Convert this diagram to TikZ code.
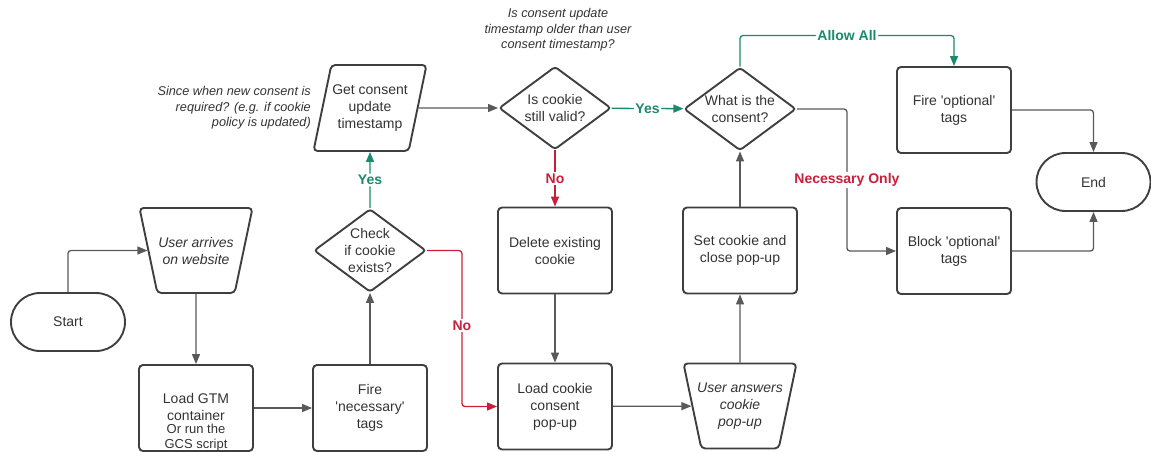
\documentclass[tikz,border=0pt]{standalone}
\usepackage{fontspec}
\setmainfont{Liberation Sans}
\usetikzlibrary{arrows.meta,shapes.geometric}
\definecolor{edgec}{HTML}{3F3F3F}
\definecolor{linec}{HTML}{595959}
\definecolor{txtc}{HTML}{333333}
\definecolor{yesc}{HTML}{1A8A6C}
\definecolor{noc}{HTML}{C8203A}
\newcommand{\sq}{\textquotesingle}
\newcommand{\shapefill}{\phantom{\rule{1pt}{1pt}}}

\begin{document}
\begin{tikzpicture}[x=1pt,y=-1pt,
  shp/.style={draw=edgec, line width=1.9pt, text=txtc,
    font=\fontsize{14}{17}\selectfont, align=center, inner sep=0pt},
  inlab/.style={text=txtc, font=\fontsize{14}{17}\selectfont, align=center, inner sep=0pt},
  process/.style={shp, rectangle, rounded corners=4pt, minimum width=114pt, minimum height=86pt},
  terminal/.style={shp, rectangle, rounded corners=29pt, minimum width=114pt, minimum height=58pt},
  decide/.style={shp, diamond, rounded corners=3pt, minimum width=112pt, minimum height=83pt,
    label={[inlab]center:#1}},
  usrin/.style={shp, trapezium, trapezium left angle=77, trapezium right angle=77,
    trapezium stretches=true, shape border rotate=180, rounded corners=4pt,
    minimum width=113pt, minimum height=85pt,
    label={[inlab,font=\itshape\fontsize{14}{17}\selectfont]center:#1}},
  datain/.style={shp, trapezium, trapezium left angle=77, trapezium right angle=103,
    trapezium stretches=true, rounded corners=4pt, minimum width=113pt, minimum height=86pt,
    label={[inlab]center:#1}},
  note/.style={text=txtc, font=\itshape\fontsize{12.7}{15.5}\selectfont, align=center, inner sep=0pt},
  conn/.style={draw=linec, line width=1.3pt, rounded corners=3pt,
    -{Triangle[length=10pt,width=8pt]}},
  yesline/.style={conn, draw=yesc},
  noline/.style={conn, draw=noc},
  lbl/.style={fill=white, inner sep=1.5pt, font=\bfseries\fontsize{14}{17}\selectfont},
]
\useasboundingbox (0,0) rectangle (1151,452);

% nodes
\node[terminal] (start) at (68,322) {Start};
\node[usrin={User arrives\\on website}] (ua) at (196,250.5) {\shapefill};
\node[process, label={[inlab,yshift=1.5pt]center:Load GTM\\container}] (gtm) at (196,408) {};
\node[text=txtc, font=\fontsize{13}{15}\selectfont, align=center, inner sep=0pt]
  (gcs) at (196,437.5) {Or run the\\GCS script};
\node[process] (fire) at (370,408) {Fire\\\sq necessary\sq\\tags};
\node[decide={Check\\if cookie\\exists?}] (check) at (370,250.5) {\shapefill};
\node[datain={Get consent\\update\\timestamp}] (get) at (370,108) {\shapefill};
\node[note, anchor=east, align=right] (n1) at (311,108)
  {Since when new consent is\\required? (e.g. if cookie\\policy is updated)};
\node[decide={Is cookie\\still valid?}] (valid) at (555,108) {\shapefill};
\node[note] (n2) at (558,30) {Is consent update\\timestamp older than user\\consent timestamp?};
\node[process] (del) at (555,250.5) {Delete existing\\cookie};
\node[process] (load) at (555,406.5) {Load cookie\\consent\\pop-up};
\node[usrin={User answers\\cookie\\pop-up}] (uans) at (740,406) {\shapefill};
\node[process] (set) at (740,250.5) {Set cookie and\\close pop-up};
\node[decide={What is the\\consent?}] (what) at (740,109) {\shapefill};
\node[process] (fopt) at (954,110) {Fire \sq optional\sq\\tags};
\node[process] (bopt) at (954,251) {Block \sq optional\sq\\tags};
\node[terminal] (end) at (1093.5,182) {End};

% connectors
\draw[conn] (start.north) |- (ua);
\draw[conn] (ua) -- (gtm);
\draw[conn] (gtm) -- (fire);
\draw[conn] (fire) -- (check);
\draw[yesline] (check) -- node[lbl,text=yesc]{Yes} (get);
\draw[noline] (check.east) -- ++(35,0) |- node[lbl,text=noc,pos=0.24]{No} (load.west);
\draw[conn] (get) -- (valid);
\draw[yesline] (valid) -- node[lbl,text=yesc]{Yes} (what);
\draw[noline] (valid) -- node[lbl,text=noc]{No} (del);
\draw[conn] (del) -- (load);
\draw[conn] (load) -- (uans);
\draw[conn] (uans) -- (set);
\draw[conn] (set) -- (what);
\draw[yesline] (what.north) -- ++(0,-31) -| node[lbl,text=yesc,pos=0.25]{Allow All} (fopt.north);
\draw[conn] (what.east) -- ++(50,0) |- node[lbl,text=noc,pos=0.25]{Necessary Only} (bopt.west);
\draw[conn] (fopt.east) -| (end.north);
\draw[conn] (bopt.east) -| (end.south);
\end{tikzpicture}
\end{document}
